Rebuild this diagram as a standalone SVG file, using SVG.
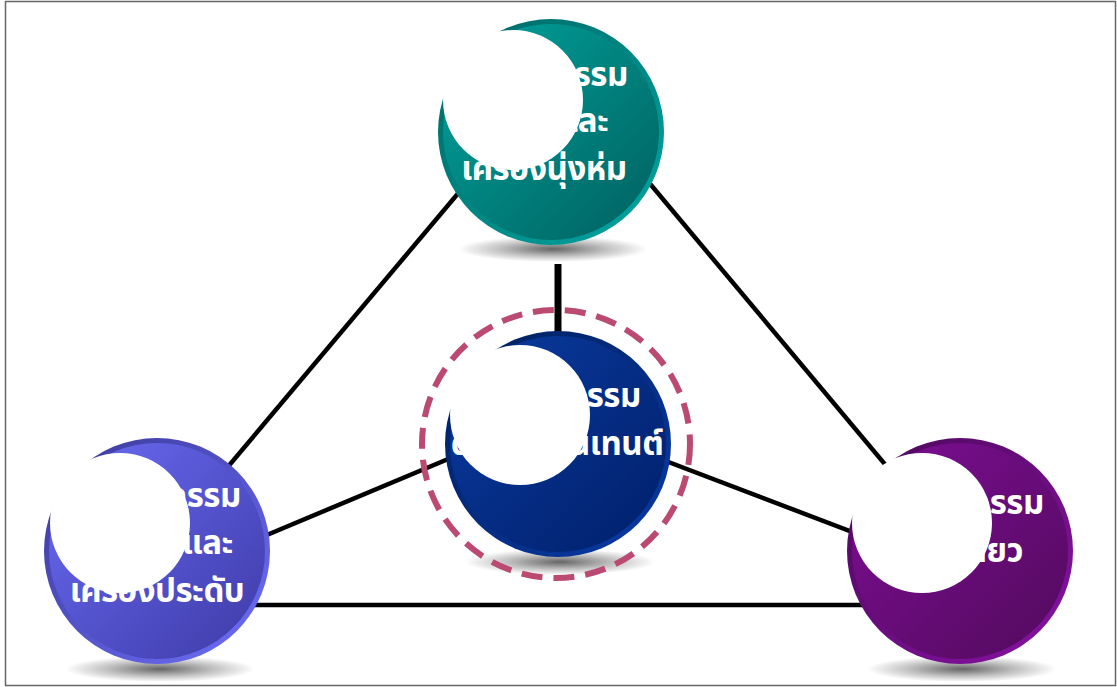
<svg xmlns="http://www.w3.org/2000/svg" width="1117" height="687" viewBox="0 0 1117 687">
<defs>
<style>
.ln{stroke:#000;stroke-width:4.5;fill:none}
.lbl{font-family:"Noto Sans Thai","Noto Sans","DejaVu Sans",sans-serif;font-weight:bold;font-size:33px;fill:#fff;text-anchor:middle;letter-spacing:-0.5px}
.hl{fill:#fff}
</style>
<radialGradient id="sh" cx="0.5" cy="0.5" r="0.5">
<stop offset="0" stop-color="#000" stop-opacity="0.6"/>
<stop offset="0.55" stop-color="#000" stop-opacity="0.25"/>
<stop offset="1" stop-color="#000" stop-opacity="0"/>
</radialGradient>
<linearGradient id="gT" x1="0" y1="0" x2="1" y2="1">
<stop offset="0" stop-color="#00a39d"/><stop offset="1" stop-color="#00605f"/>
</linearGradient>
<linearGradient id="rT" x1="0" y1="0" x2="1" y2="1">
<stop offset="0" stop-color="#006461"/><stop offset="1" stop-color="#00a8a4"/>
</linearGradient>
<linearGradient id="gB" x1="0" y1="0" x2="1" y2="1">
<stop offset="0" stop-color="#0a3ba0"/><stop offset="1" stop-color="#001f6a"/>
</linearGradient>
<linearGradient id="rB" x1="0" y1="0" x2="1" y2="1">
<stop offset="0" stop-color="#00205a"/><stop offset="1" stop-color="#0a3aa8"/>
</linearGradient>
<linearGradient id="gL" x1="0" y1="0" x2="1" y2="1">
<stop offset="0" stop-color="#6a6cf5"/><stop offset="1" stop-color="#3e3aa6"/>
</linearGradient>
<linearGradient id="rL" x1="0" y1="0" x2="1" y2="1">
<stop offset="0" stop-color="#3a3896"/><stop offset="1" stop-color="#6e6ffc"/>
</linearGradient>
<linearGradient id="gR" x1="0" y1="0" x2="1" y2="1">
<stop offset="0" stop-color="#7d0e95"/><stop offset="1" stop-color="#520a5c"/>
</linearGradient>
<linearGradient id="rR" x1="0" y1="0" x2="1" y2="1">
<stop offset="0" stop-color="#4a0858"/><stop offset="1" stop-color="#8a12a6"/>
</linearGradient>
</defs>
<rect x="0" y="0" width="1117" height="687" fill="#fff"/>
<rect x="5.5" y="1.5" width="1110" height="684" fill="none" stroke="#666" stroke-width="1.5"/>
<g id="connectors">
<line class="ln" x1="503" y1="140" x2="157" y2="551"/>
<line class="ln" x1="605" y1="130" x2="940" y2="530"/>
<line class="ln" x1="157" y1="605" x2="960" y2="605"/>
<line class="ln" x1="157" y1="581" x2="558" y2="413"/>
<line class="ln" x1="558" y1="420" x2="960" y2="573"/>
<line x1="558" y1="264" x2="558" y2="340" stroke="#000" stroke-width="7"/>
</g>
<g id="node-top">
<ellipse cx="553" cy="249" rx="95" ry="13" fill="url(#sh)"/>
<circle cx="551" cy="132" r="113" fill="url(#rT)"/>
<circle cx="551" cy="132" r="108" fill="url(#gT)"/>
<text class="lbl" x="544" y="86">อุตสาหกรรม</text>
<text class="lbl" x="544" y="132">สิ่งทอและ</text>
<text class="lbl" x="544" y="180">เครื่องนุ่งห่ม</text>
<circle class="hl" cx="513" cy="100" r="70"/>
</g>
<g id="node-center">
<ellipse cx="560" cy="562" rx="95" ry="13" fill="url(#sh)"/>
<circle cx="558" cy="444" r="113" fill="url(#rB)"/>
<circle cx="558" cy="444" r="108" fill="url(#gB)"/>
<text class="lbl" x="557" y="407">อุตสาหกรรม</text>
<text class="lbl" x="557" y="455">ดิจิทัลคอนเทนต์</text>
<circle class="hl" cx="520" cy="415" r="70"/>
<circle cx="556" cy="444" r="134" fill="none" stroke="#bb4a72" stroke-width="6" stroke-dasharray="21 11"/>
</g>
<g id="node-left">
<ellipse cx="160" cy="669" rx="95" ry="13" fill="url(#sh)"/>
<circle cx="157" cy="551" r="113" fill="url(#rL)"/>
<circle cx="157" cy="551" r="108" fill="url(#gL)"/>
<text class="lbl" x="157" y="507">อุตสาหกรรม</text>
<text class="lbl" x="157" y="554">อัญมณีและ</text>
<text class="lbl" x="157" y="602">เครื่องประดับ</text>
<circle class="hl" cx="120" cy="523" r="70"/>
</g>
<g id="node-right">
<ellipse cx="962" cy="669" rx="95" ry="13" fill="url(#sh)"/>
<circle cx="960" cy="551" r="113" fill="url(#rR)"/>
<circle cx="960" cy="551" r="108" fill="url(#gR)"/>
<text class="lbl" x="960" y="514">อุตสาหกรรม</text>
<text class="lbl" x="960" y="562">ท่องเที่ยว</text>
<circle class="hl" cx="922" cy="523" r="70"/>
</g>
</svg>
